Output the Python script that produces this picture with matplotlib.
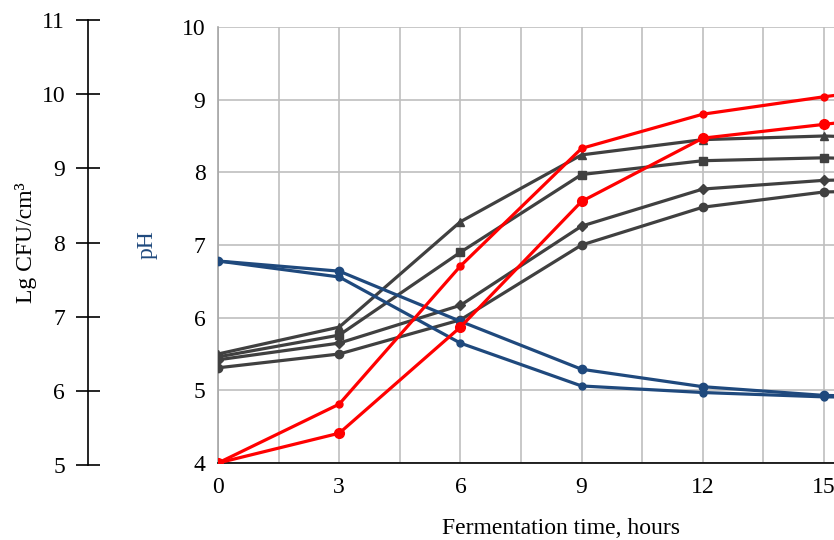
import matplotlib.pyplot as plt
import numpy as np

plt.rcParams['font.family'] = ['Liberation Serif', 'DejaVu Serif']

# fermentation time, hours (18 h point lies just past the visible edge)
hours = [0, 3, 6, 9, 12, 15, 18]

# viable counts (read on the inner grid scale)
red_upper = [4.00, 4.81, 6.71, 8.33, 8.80, 9.04, 9.25]
red_lower = [4.00, 4.41, 5.87, 7.60, 8.47, 8.66, 8.85]
gray_triangle = [5.50, 5.87, 7.32, 8.24, 8.45, 8.50, 8.45]
gray_square = [5.46, 5.76, 6.90, 7.97, 8.16, 8.20, 8.15]
gray_diamond = [5.42, 5.65, 6.17, 7.26, 7.77, 7.89, 7.92]
gray_circle = [5.31, 5.50, 5.97, 7.00, 7.52, 7.73, 7.76]

# pH
ph_upper = [6.78, 6.64, 5.95, 5.29, 5.05, 4.93, 4.90]
ph_lower = [6.78, 6.56, 5.65, 5.06, 4.97, 4.91, 4.90]

x_ticks = [0, 3, 6, 9, 12, 15]
ph_ticks = [4, 5, 6, 7, 8, 9, 10]
cfu_ticks = [5, 6, 7, 8, 9, 10, 11]

fs = 17

fig = plt.figure(figsize=(8.34, 5.4), dpi=100)
ax = fig.add_axes([218 / 834, 1 - 463 / 540, 1 - 218 / 834, (463 - 27) / 540])

gray = '#404040'
red = '#ff0000'
blue = '#1f497d'
lw = 2.3

ax.plot(hours, gray_triangle, color=gray, lw=lw, marker='^', ms=6, zorder=3)
ax.plot(hours, gray_square, color=gray, lw=lw, marker='s', ms=6, zorder=3)
ax.plot(hours, gray_diamond, color=gray, lw=lw, marker='D', ms=5, zorder=3)
ax.plot(hours, gray_circle, color=gray, lw=lw, marker='o', ms=6, zorder=3)
ax.plot(hours, ph_upper, color=blue, lw=lw, marker='o', ms=6, zorder=3)
ax.plot(hours, ph_lower, color=blue, lw=lw, marker='o', ms=5, zorder=3)
ax.plot(hours, red_upper, color=red, lw=lw, marker='o', ms=5, zorder=4)
ax.plot(hours, red_lower, color=red, lw=lw, marker='o', ms=7, zorder=4)

ax.set_xlim(0, 616 / 40.4)
ax.set_ylim(4, 10)
ax.set_xticks(x_ticks)
ax.set_xticks(np.arange(1.5, 15.3, 3), minor=True)
ax.set_yticks(ph_ticks)
ax.grid(True, which='both', color='#bfbfbf', lw=1.2, zorder=0)
ax.tick_params(which='both', length=0, labelsize=fs, colors='black')
ax.tick_params(axis='x', pad=10)
ax.tick_params(axis='y', pad=9)
for side in ['top', 'right']:
    ax.spines[side].set_visible(False)
ax.spines['left'].set_color('#a6a6a6')
ax.spines['left'].set_linewidth(1.2)
ax.spines['bottom'].set_color('black')
ax.spines['bottom'].set_linewidth(1.2)
ax.set_axisbelow(True)

ax.set_xlabel('Fermentation time, hours', fontsize=fs)
ax.xaxis.set_label_coords((561 - 218) / 616, -(518 - 463) / 436)
ax.set_ylabel('pH', fontsize=fs, color=blue)
ax.yaxis.set_label_coords(-(218 - 158) / 616, 0.5)

# separate Lg CFU axis on the far left
ax2 = fig.add_axes([88 / 834, 1 - 465 / 540, 0.001, (465 - 20) / 540])
ax2.set_ylim(5, 11)
ax2.set_yticks(cfu_ticks)
ax2.set_xticks([])
for side in ['top', 'right', 'bottom']:
    ax2.spines[side].set_visible(False)
ax2.spines['left'].set_linewidth(1.2)
ax2.patch.set_visible(False)
ax2.tick_params(axis='y', direction='inout', length=17, width=1.2, labelsize=fs, pad=8)
ax2.set_ylabel('Lg CFU/cm³', fontsize=fs)
ax2.yaxis.set_label_coords(-(88 - 37) / 834 / 0.001, 0.5)

fig.savefig('out.png', dpi=100)
